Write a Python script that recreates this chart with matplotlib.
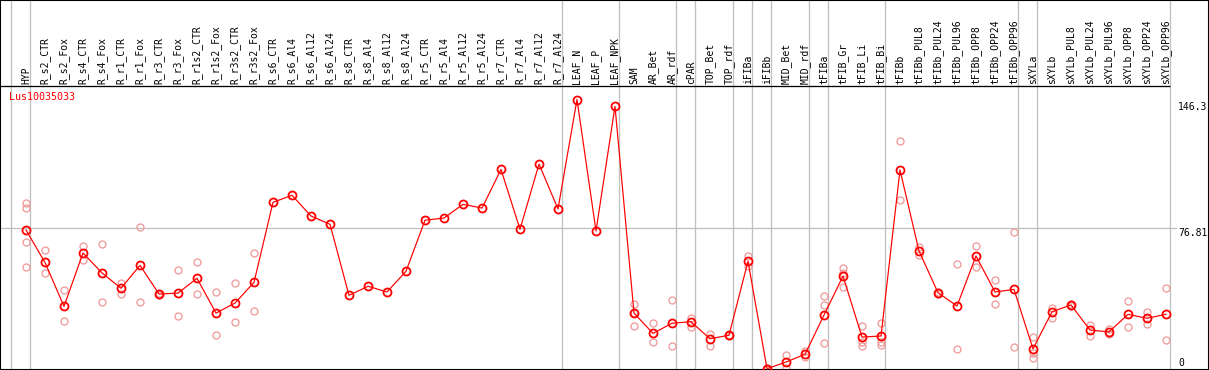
import matplotlib
matplotlib.use("Agg")
import matplotlib.pyplot as plt
from matplotlib.transforms import ScaledTranslation

# ---------------- data ----------------
categories = [
    "HYP", "R_s2_CTR", "R_s2_Fox", "R_s4_CTR", "R_s4_Fox", "R_r1_CTR", "R_r1_Fox",
    "R_r3_CTR", "R_r3_Fox", "R_r1s2_CTR", "R_r1s2_Fox", "R_r3s2_CTR", "R_r3s2_Fox",
    "R_s6_CTR", "R_s6_Al4", "R_s6_Al12", "R_s6_Al24", "R_s8_CTR", "R_s8_Al4",
    "R_s8_Al12", "R_s8_Al24", "R_r5_CTR", "R_r5_Al4", "R_r5_Al12", "R_r5_Al24",
    "R_r7_CTR", "R_r7_Al4", "R_r7_Al12", "R_r7_Al24", "LEAF_N", "LEAF_P", "LEAF_NPK",
    "SAM", "AR_Bet", "AR_rdf", "cPAR", "TOP_Bet", "TOP_rdf", "iFIBa", "iFIBb",
    "MID_Bet", "MID_rdf", "tFIBa", "tFIB_Gr", "tFIB_Li", "tFIB_Bi", "tFIBb",
    "tFIBb_PUL8", "tFIBb_PUL24", "tFIBb_PUL96", "tFIBb_OPP8", "tFIBb_OPP24",
    "tFIBb_OPP96", "sXYLa", "sXYLb", "sXYLb_PUL8", "sXYLb_PUL24", "sXYLb_PUL96",
    "sXYLb_OPP8", "sXYLb_OPP24", "sXYLb_OPP96",
]

means = [
    75.7, 58.2, 34.4, 63.3, 52.5, 44.2, 56.6, 41.1, 41.6, 49.6, 30.8, 36.2, 47.4,
    90.7, 94.5, 83.3, 78.8, 40.4, 45.3, 42.2, 53.4, 81.0, 82.2, 89.6, 87.6,
    108.5, 76.1, 111.4, 87.1, 146.3, 75.2, 142.6,
    30.8, 19.8, 25.3, 26.1, 16.9, 18.8, 58.8, 0.7, 4.3, 8.5,
    29.7, 50.8, 17.8, 18.4, 108.2, 64.4, 41.8, 34.6, 61.7, 42.2, 43.6,
    11.4, 31.5, 35.2, 21.6, 20.6, 30.1, 28.0, 30.1,
]

# replicate measurements (index of category, value)
replicates = {
    0: [90.5, 87.4, 69.1, 55.7],
    1: [64.7, 52.5],
    2: [43.1, 26.5],
    3: [66.9, 59.3],
    4: [68.0, 36.8],
    5: [47.1, 41.3],
    6: [77.2, 36.8],
    7: [41.8, 40.4],
    8: [53.9, 29.0],
    9: [58.2, 40.9],
    10: [42.2, 18.8],
    11: [46.9, 25.8],
    12: [63.1, 31.9],
    32: [35.5, 30.8, 23.6],
    33: [25.4, 15.0],
    34: [37.9, 13.2],
    35: [28.1, 23.3],
    36: [19.7, 13.2],
    37: [19.1, 18.5],
    38: [61.8, 56.4],
    39: [0.9, 0.5],
    40: [8.1, 0.9],
    41: [10.3, 7.2],
    42: [40.0, 35.2, 14.4],
    43: [55.0, 52.6, 45.1],
    44: [23.8, 15.0, 13.2],
    45: [25.3, 15.0, 13.5],
    46: [123.8, 91.8],
    47: [66.7, 62.0],
    48: [42.3, 41.3],
    49: [57.3, 11.4],
    50: [66.9, 55.5],
    51: [48.5, 35.7],
    52: [74.5, 12.4],
    53: [17.8, 9.0, 6.3],
    54: [33.7, 28.1],
    55: [35.9, 34.6],
    56: [24.5, 18.6],
    57: [22.1, 19.7],
    58: [37.3, 23.1],
    59: [31.4, 24.7],
    60: [44.2, 16.1],
}

# group separators (after these category indices)
separators = [-1, 0, 28, 31, 34, 35, 37, 38, 39, 41, 42, 45, 52, 53, 60]

y_ticks = [0, 76.81, 146.3]
y_tick_labels = ["0", "76.81", "146.3"]
gene = "Lus10035033"

# ---------------- layout ----------------
W, H = 1209, 370
DPI = 100
fig = plt.figure(figsize=(W / DPI, H / DPI), dpi=DPI)
ax = fig.add_axes([0, 0, 1, 1])

x0_px, step_px = 26.0, 19.0        # pixel position of category 0 and spacing
zero_px, scale_px = 370.0, 142.0 / 76.81  # pixel of value 0 (from top) and px per unit

ax.set_xlim(-x0_px / step_px, (W - x0_px) / step_px)
ax.set_ylim(0, zero_px / scale_px)


def yval(py):
    """value corresponding to a pixel row measured from the top"""
    return (zero_px - py) / scale_px


def xval(px):
    return (px - x0_px) / step_px


ax.set_xticks([])
ax.set_yticks([])
for s in ax.spines.values():
    s.set_color("black")
    s.set_linewidth(1.5)

mono = "DejaVu Sans Mono"
gray = "#c0c0c0"
px = 72.0 / DPI

# vertical group separators
for s in separators:
    ax.axvline(s + 1.23 - 1.0 if False else s + 0.23, color=gray, lw=1.3 * px, zorder=1)

# header separator line
ax.plot([xval(0), xval(1170)], [yval(85.5), yval(85.5)], color="black", lw=1.3 * px,
        zorder=3, solid_capstyle="butt")

# horizontal gridline at 76.81
ax.plot([xval(0), xval(1176)], [76.81, 76.81], color=gray, lw=1.3 * px, zorder=1)

# header labels
for i, name in enumerate(categories):
    ax.text(i, yval(83.5), name, rotation=90, ha="center", va="bottom",
            fontsize=7, family=mono, color="black", zorder=4)

# replicates
rep_x, rep_y = [], []
for i, vals in replicates.items():
    for v in vals:
        rep_x.append(i)
        rep_y.append(v)
ax.plot(rep_x, rep_y, linestyle="none", marker="o", markersize=7 * px,
        markerfacecolor="none", markeredgecolor="#f09a9a", markeredgewidth=1.3 * px,
        zorder=2, clip_on=True)

# mean line
xs = list(range(len(categories)))
ax.plot(xs, means, color="#ff0000", lw=1.2 * px, zorder=5)
ax.plot(xs, means, linestyle="none", marker="o", markersize=8 * px,
        markerfacecolor="none", markeredgecolor="#ff0000", markeredgewidth=1.8 * px,
        zorder=6)

# y tick labels on the right
tx = xval(1178)
offsets = {"0": 12, "76.81": -0.5, "146.3": -2.5}
for v, lab in zip(y_ticks, y_tick_labels):
    dy = offsets[lab]
    tr = ax.transData + ScaledTranslation(0, dy / DPI, fig.dpi_scale_trans)
    ax.text(tx, v, lab, transform=tr, ha="left", va="top", fontsize=7,
            family=mono, color="black", zorder=4)

# gene name
ax.text(xval(9), yval(91.5), gene, ha="left", va="top", fontsize=7.2,
        family=mono, color="#ff0000", zorder=4)

fig.savefig("out.png", dpi=DPI)
